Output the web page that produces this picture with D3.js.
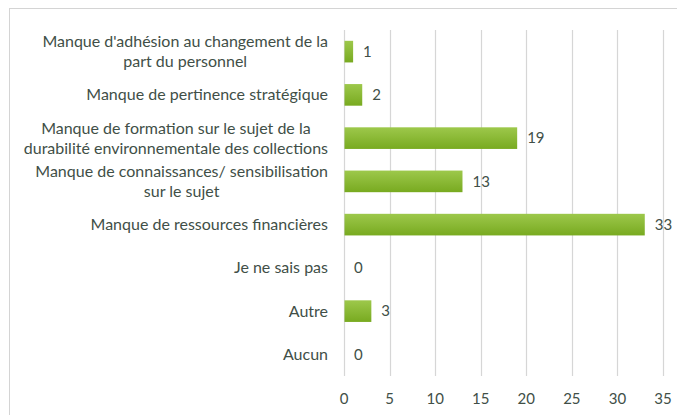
<!DOCTYPE html>
<html>
<head>
<meta charset="utf-8">
<script src="https://cdn.jsdelivr.net/npm/d3@7"></script>
<style>
body { margin: 0; background: #fff; }
text { font-family: Lato, "Open Sans", sans-serif; fill: #414f47; }
</style>
</head>
<body>
<svg width="677" height="415"></svg>
<script>
// categories, one entry per bar, lines already split like in the original
var categories = [
    ["Manque d'adhésion au changement de la", "part du personnel"],
    ["Manque de pertinence stratégique"],
    ["Manque de formation sur le sujet de la", "durabilité environnementale des collections"],
    ["Manque de connaissances/ sensibilisation", "sur le sujet"],
    ["Manque de ressources financières"],
    ["Je ne sais pas"],
    ["Autre"],
    ["Aucun"]
];
var counts = [1, 2, 19, 13, 33, 0, 3, 0];
var xTicks = [0, 5, 10, 15, 20, 25, 30, 35];

var svg = d3.select("svg");

// green gradient for the bars
var grad = svg.append("defs").append("linearGradient")
    .attr("id", "barGrad")
    .attr("x1", 0).attr("y1", 0).attr("x2", 0).attr("y2", 1);
grad.append("stop").attr("offset", "0%").attr("stop-color", "#9dc84b");
grad.append("stop").attr("offset", "100%").attr("stop-color", "#78aa20");

// frame around the chart
svg.append("rect")
    .attr("x", 9.5).attr("y", 8.5)
    .attr("width", 720).attr("height", 450)
    .attr("fill", "none")
    .attr("stroke", "#d4d4d4");

var x = d3.scaleLinear().domain([0, 35]).range([344, 663]);
var y = d3.scaleBand()
    .domain(d3.range(categories.length))
    .range([30, 376])
    .paddingInner(0.5)
    .paddingOuter(0.25);

// gridlines
svg.append("g").selectAll("line")
    .data(xTicks)
    .enter().append("line")
    .attr("x1", function(d) { return Math.round(x(d)) + 0.5; })
    .attr("x2", function(d) { return Math.round(x(d)) + 0.5; })
    .attr("y1", 30)
    .attr("y2", 376)
    .attr("stroke", "#d6d6d6")
    .attr("stroke-width", 1.2);

// tick labels
svg.append("g").selectAll("text")
    .data(xTicks)
    .enter().append("text")
    .attr("x", function(d) { return x(d); })
    .attr("y", 404)
    .attr("text-anchor", "middle")
    .attr("font-size", 15)
    .text(function(d) { return d; });

// bars
svg.append("g").selectAll("rect")
    .data(counts)
    .enter().append("rect")
    .attr("x", x(0) + 0.5)
    .attr("y", function(d, i) { return y(i); })
    .attr("width", function(d) { return Math.max(0, x(d) - x(0) - 0.5); })
    .attr("height", y.bandwidth())
    .attr("fill", "url(#barGrad)");

// value labels
svg.append("g").selectAll("text")
    .data(counts)
    .enter().append("text")
    .attr("x", function(d) { return x(d) + 10; })
    .attr("y", function(d, i) { return y(i) + y.bandwidth() / 2; })
    .attr("dy", "0.35em")
    .attr("font-size", 15)
    .text(function(d) { return d; });

// category labels: block right-aligned, lines centred inside the block
var labelRight = 328;
var lineH = 20;
var groups = svg.append("g").selectAll("g")
    .data(categories)
    .enter().append("g");

groups.each(function(lines, i)
{
    var g = d3.select(this);
    var cy = y(i) + y.bandwidth() / 2;
    var texts = g.selectAll("text")
        .data(lines)
        .enter().append("text")
        .attr("font-size", 16)
        .attr("dy", "0.35em")
        .attr("y", function(d, j) { return cy + (j - (lines.length - 1) / 2) * lineH; })
        .text(function(d) { return d; });
    var maxW = 0;
    texts.each(function() { maxW = Math.max(maxW, this.getComputedTextLength()); });
    texts.attr("x", labelRight - maxW / 2).attr("text-anchor", "middle");
});
</script>
</body>
</html>
